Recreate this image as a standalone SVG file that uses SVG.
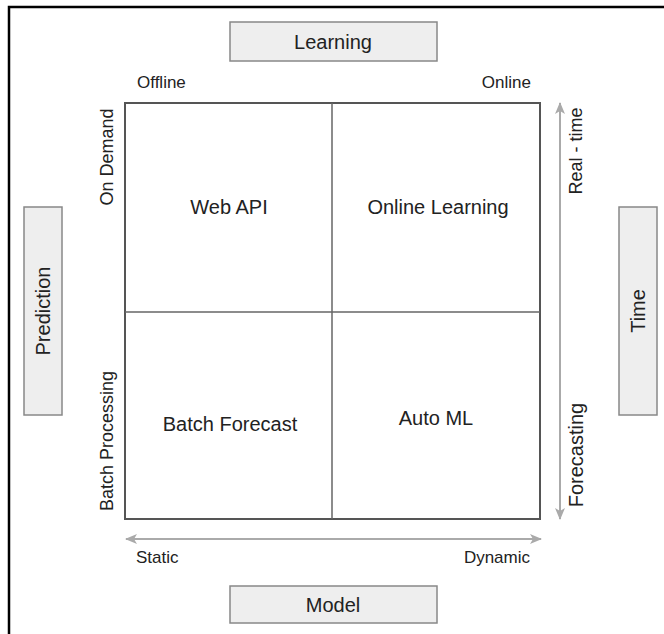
<svg xmlns="http://www.w3.org/2000/svg" width="664" height="634" viewBox="0 0 664 634">
<style>
  text { font-family: "Liberation Sans", Arial, sans-serif; fill: #222; }
  .box { fill: #eeeeee; stroke: #888; stroke-width: 1.5; }
  .big { font-size: 20px; }
  .lbl { font-size: 17px; }
  .side { font-size: 18px; }
  .arrow { stroke: #aaa; stroke-width: 2; fill: none; }
</style>
<defs>
  <marker id="ah" viewBox="0 0 12 10" refX="11" refY="5" markerWidth="12" markerHeight="10" markerUnits="userSpaceOnUse" orient="auto-start-reverse">
    <path d="M0,0 L12,5 L0,10 L3,5 Z" fill="#aaa"/>
  </marker>
</defs>
<rect width="664" height="634" fill="#fff"/>
<path d="M9,640 V7 H670" fill="none" stroke="#000" stroke-width="2.5"/>

<g id="grid">
  <rect x="125" y="103" width="415" height="416" fill="none" stroke="#555" stroke-width="2"/>
  <line x1="332" y1="103" x2="332" y2="519" stroke="#666" stroke-width="1.5"/>
  <line x1="125" y1="312" x2="540" y2="312" stroke="#666" stroke-width="1.5"/>
</g>

<g id="connectors">
  <line class="arrow" x1="126" y1="539" x2="541" y2="539" marker-start="url(#ah)" marker-end="url(#ah)"/>
  <line class="arrow" x1="560" y1="103" x2="560" y2="519" marker-start="url(#ah)" marker-end="url(#ah)"/>
</g>

<g id="learning">
  <rect class="box" x="230" y="22" width="207" height="39"/>
  <text class="big" x="333" y="49" text-anchor="middle">Learning</text>
</g>
<g id="model">
  <rect class="box" x="230" y="586" width="207" height="37"/>
  <text class="big" x="333" y="612" text-anchor="middle">Model</text>
</g>
<g id="prediction">
  <rect class="box" x="24" y="207" width="38" height="208"/>
  <text class="big" transform="translate(50,311) rotate(-90)" text-anchor="middle">Prediction</text>
</g>
<g id="time">
  <rect class="box" x="619" y="207" width="38" height="208"/>
  <text class="big" transform="translate(645,311) rotate(-90)" text-anchor="middle">Time</text>
</g>

<g id="web-api"><text class="big" x="229" y="214" text-anchor="middle">Web API</text></g>
<g id="online-learning"><text class="big" x="438" y="214" text-anchor="middle">Online Learning</text></g>
<g id="batch-forecast"><text class="big" x="230" y="431" text-anchor="middle">Batch Forecast</text></g>
<g id="auto-ml"><text class="big" x="436" y="425" text-anchor="middle">Auto ML</text></g>

<g id="axis-labels">
  <text class="lbl" x="137" y="88">Offline</text>
  <text class="lbl" x="531" y="88" text-anchor="end">Online</text>
  <text class="lbl" x="136" y="563">Static</text>
  <text class="lbl" x="530" y="563" text-anchor="end">Dynamic</text>
  <text class="side" transform="translate(113,157) rotate(-90)" text-anchor="middle">On Demand</text>
  <text class="side" transform="translate(113,441) rotate(-90)" text-anchor="middle">Batch Processing</text>
  <text class="side" transform="translate(582,151) rotate(-90)" text-anchor="middle">Real - time</text>
  <text class="big" transform="translate(583,455) rotate(-90)" text-anchor="middle">Forecasting</text>
</g>
</svg>
